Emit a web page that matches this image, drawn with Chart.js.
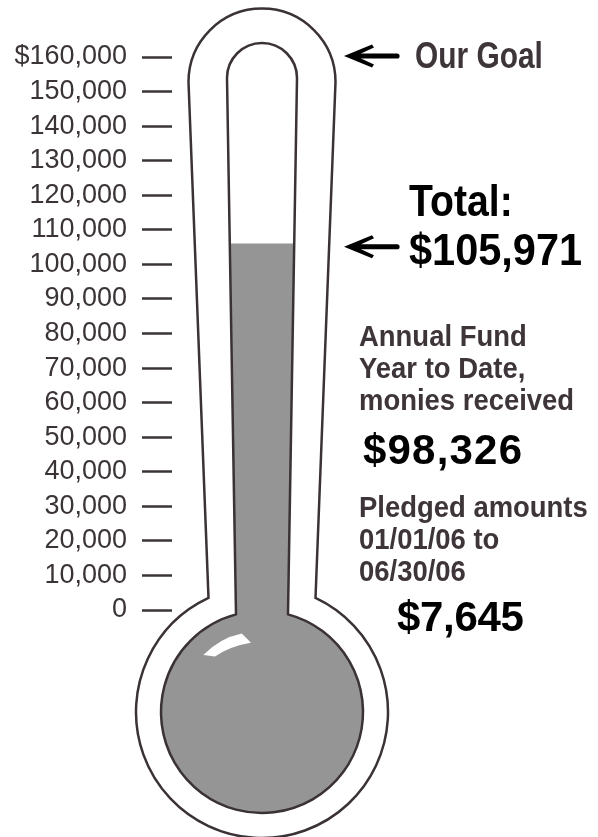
<!DOCTYPE html>
<html>
<head>
<meta charset="utf-8">
<script src="https://cdn.jsdelivr.net/npm/chart.js@4/dist/chart.umd.min.js"></script>
<style>
  html, body { margin: 0; padding: 0; background: #ffffff; }
  #wrap { position: relative; width: 598px; height: 837px; overflow: hidden; }
  canvas { position: absolute; left: 0; top: 0; }
  .t { position: absolute; font-family: "Liberation Sans", Arial, sans-serif; font-weight: bold; white-space: nowrap; transform-origin: 0 0; }
  .grey { color: #3d3539; font-size: 30px; line-height: 32px; transform: scaleX(0.915); }
  .black { color: #000000; }
</style>
</head>
<body>
<div id="wrap">
  <canvas id="c" width="598" height="837"></canvas>
  <div class="t" id="goalLabel" style="left:415px; top:37.5px; font-size:36px; line-height:36px; color:#3d3539; transform:scaleX(0.83);"></div>
  <div class="t black" id="totalTitle" style="left:409px; top:176px; font-size:44px; line-height:49px; transform:scaleX(0.89);"></div>
  <div class="t black" id="totalValue" style="left:409px; top:225px; font-size:44px; line-height:49px; transform:scaleX(0.943);"></div>
  <div class="t grey" id="recvLabel" style="left:359px; top:320px;"></div>
  <div class="t black" id="recvValue" style="left:363px; top:428.5px; font-size:42px; line-height:42px; letter-spacing:1.2px;"></div>
  <div class="t grey" id="pledgeLabel" style="left:359px; top:490.5px;"></div>
  <div class="t black" id="pledgeValue" style="left:397px; top:596px; font-size:42px; line-height:42px; letter-spacing:-0.3px;"></div>
</div>
<script>
// ---- data ----
const categories = ['Annual Fund'];
const receivedValues = [98326];
const pledgedValues = [7645];
const goalValue = 160000;
const tickValues = [0, 10000, 20000, 30000, 40000, 50000, 60000, 70000, 80000, 90000, 100000, 110000, 120000, 130000, 140000, 150000, 160000];
const tickLabels = ['0', '10,000', '20,000', '30,000', '40,000', '50,000', '60,000', '70,000', '80,000', '90,000', '100,000', '110,000', '120,000', '130,000', '140,000', '150,000', '$160,000'];
const goalText = ['Our Goal'];
const totalText = ['Total:'];
const receivedText = ['Annual Fund', 'Year to Date,', 'monies received'];
const pledgedText = ['Pledged amounts', '01/01/06 to', '06/30/06'];

const totalValue = receivedValues[0] + pledgedValues[0];
const fmt = v => '$' + v.toLocaleString('en-US');

document.getElementById('goalLabel').textContent = goalText[0];
document.getElementById('totalTitle').textContent = totalText[0];
document.getElementById('totalValue').textContent = fmt(totalValue);
document.getElementById('recvLabel').innerHTML = receivedText.join('<br>');
document.getElementById('recvValue').textContent = fmt(receivedValues[0]);
document.getElementById('pledgeLabel').innerHTML = pledgedText.join('<br>');
document.getElementById('pledgeValue').textContent = fmt(pledgedValues[0]);

// ---- styles ----
const LINE = '#3a3235';
const FILL = '#959595';
const TEXT = '#3b3437';
const FONT = '"Liberation Sans", Arial, sans-serif';

// geometry of the glass (decoration)
const CX = 262;
const G = {
  outerTopY: 82, outerTopR: 73.5, outerStemHalf: 53.5, bulbY: 712, outerBulbR: 126,
  innerTopY: 78, innerTopR: 35, innerStemHalf: 26, innerBulbR: 101
};

function outerPath(ctx) {
  const dy = Math.sqrt(G.outerBulbR * G.outerBulbR - G.outerStemHalf * G.outerStemHalf);
  const a1 = Math.atan2(-dy, G.outerStemHalf);
  const a2 = Math.atan2(-dy, -G.outerStemHalf) + 2 * Math.PI;
  ctx.beginPath();
  ctx.moveTo(CX - G.outerStemHalf, G.bulbY - dy);
  ctx.lineTo(CX - G.outerTopR, G.outerTopY);
  ctx.arc(CX, G.outerTopY, G.outerTopR, Math.PI, 2 * Math.PI);
  ctx.lineTo(CX + G.outerStemHalf, G.bulbY - dy);
  ctx.arc(CX, G.bulbY, G.outerBulbR, a1, a2);
  ctx.closePath();
}
function innerPath(ctx) {
  const dy = Math.sqrt(G.innerBulbR * G.innerBulbR - G.innerStemHalf * G.innerStemHalf);
  const a1 = Math.atan2(-dy, G.innerStemHalf);
  const a2 = Math.atan2(-dy, -G.innerStemHalf) + 2 * Math.PI;
  ctx.beginPath();
  ctx.moveTo(CX - G.innerStemHalf, G.bulbY - dy);
  ctx.lineTo(CX - G.innerTopR, G.innerTopY);
  ctx.arc(CX, G.innerTopY, G.innerTopR, Math.PI, 2 * Math.PI);
  ctx.lineTo(CX + G.innerStemHalf, G.bulbY - dy);
  ctx.arc(CX, G.bulbY, G.innerBulbR, a1, a2);
  ctx.closePath();
}
function arrow(ctx, x, y) {
  ctx.save();
  ctx.fillStyle = '#000';
  ctx.beginPath();
  ctx.moveTo(x, y);
  ctx.lineTo(x + 28, y - 11.5);
  ctx.lineTo(x + 30, y - 8.5);
  ctx.lineTo(x + 17, y - 2.6);
  ctx.lineTo(x + 17, y + 2.6);
  ctx.lineTo(x + 30, y + 8.5);
  ctx.lineTo(x + 28, y + 11.5);
  ctx.closePath();
  ctx.fill();
  ctx.strokeStyle = '#000';
  ctx.lineWidth = 5.2;
  ctx.lineCap = 'round';
  ctx.beginPath();
  ctx.moveTo(x + 12, y);
  ctx.lineTo(x + 53, y);
  ctx.stroke();
  ctx.restore();
}

const thermo = {
  id: 'thermo',
  beforeDatasetsDraw(chart) {
    const ctx = chart.ctx;
    const y = chart.scales.y;
    ctx.save();
    outerPath(ctx);
    ctx.fillStyle = '#fff';
    ctx.fill();
    ctx.lineWidth = 2.5;
    ctx.strokeStyle = LINE;
    ctx.stroke();
    ctx.restore();
    // clip to the glass interior, fill the bulb (always full)
    ctx.save();
    innerPath(ctx);
    ctx.fillStyle = '#fff';
    ctx.fill();
    ctx.clip();
    const y0 = Math.floor(y.getPixelForValue(0)) - 1;
    ctx.fillStyle = FILL;
    ctx.fillRect(0, y0, chart.width, chart.height - y0);
  },
  afterDatasetsDraw(chart) {
    const ctx = chart.ctx;
    const y = chart.scales.y;
    ctx.restore();
    ctx.save();
    innerPath(ctx);
    ctx.lineWidth = 2.5;
    ctx.strokeStyle = LINE;
    ctx.stroke();
    // highlight on the bulb
    ctx.fillStyle = '#fff';
    ctx.beginPath();
    ctx.moveTo(203.3, 655);
    ctx.quadraticCurveTo(220, 638, 241.7, 633.5);
    ctx.lineTo(251, 642.7);
    ctx.quadraticCurveTo(230, 646, 215, 656.5);
    ctx.closePath();
    ctx.fill();
    ctx.restore();
    arrow(ctx, 344, y.getPixelForValue(goalValue) - 1);
    arrow(ctx, 344, y.getPixelForValue(totalValue) + 3);
  }
};

new Chart(document.getElementById('c'), {
  type: 'bar',
  data: {
    labels: categories,
    datasets: [
      { label: 'Received', data: receivedValues, backgroundColor: FILL, borderWidth: 0, barPercentage: 1, categoryPercentage: 1 },
      { label: 'Pledged', data: pledgedValues, backgroundColor: FILL, borderWidth: 0, barPercentage: 1, categoryPercentage: 1 }
    ]
  },
  options: {
    responsive: false,
    devicePixelRatio: 1,
    animation: false,
    layout: { padding: { top: 57, bottom: 227, left: 0, right: 246 } },
    plugins: { legend: { display: false }, tooltip: { enabled: false } },
    scales: {
      x: { stacked: true, display: false },
      y: {
        stacked: true,
        min: 0,
        max: goalValue,
        afterFit(scale) { scale.width = 172; },
        afterBuildTicks(scale) { scale.ticks = tickValues.map(v => ({ value: v })); },
        border: { display: false },
        grid: { drawOnChartArea: false, drawTicks: true, tickLength: 30, tickWidth: 2.5, tickColor: TEXT },
        ticks: {
          autoSkip: false,
          padding: 15,
          color: TEXT,
          font: { family: FONT, size: 27 },
          callback: (v, i) => tickLabels[i]
        }
      }
    }
  },
  plugins: [thermo]
});
</script>
</body>
</html>
